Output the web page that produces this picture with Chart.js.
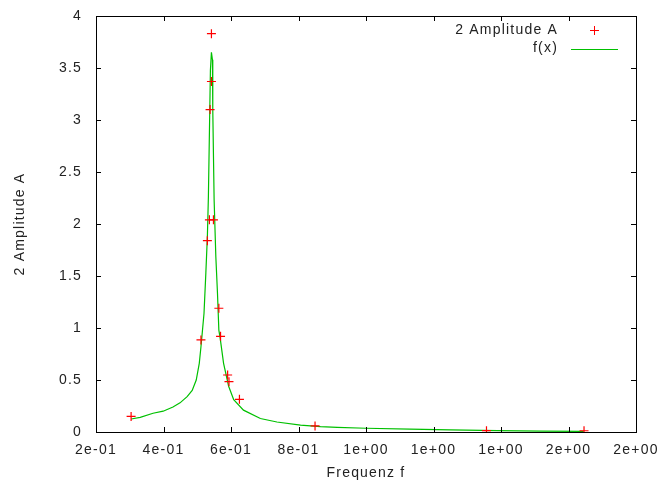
<!DOCTYPE html>
<html>
<head>
<meta charset="utf-8">
<script src="https://cdn.jsdelivr.net/npm/chart.js@4"></script>
<style>
  html, body { margin: 0; padding: 0; background: #fff; }
  #wrap { width: 661px; height: 494px; }
</style>
</head>
<body>
<div id="wrap"><canvas id="plot"></canvas></div>
<script>
// measured points (2 Amplitude A)
const ampX = [0.304, 0.511, 0.530, 0.536, 0.538, 0.542, 0.542, 0.548, 0.564, 0.569, 0.590, 0.594, 0.625, 0.849, 1.357, 1.646];
const ampY = [0.15, 0.885, 1.84, 2.04, 3.10, 3.37, 3.83, 2.04, 1.19, 0.92, 0.548, 0.484, 0.314, 0.058, 0.013, 0.012];

// fitted curve f(x)
const fitX = [0.304, 0.331, 0.369, 0.399, 0.428, 0.449, 0.470, 0.485, 0.497, 0.506, 0.511, 0.515, 0.520, 0.5255, 0.530, 0.533, 0.536, 0.539, 0.542, 0.545, 0.546, 0.550, 0.555, 0.560, 0.564, 0.568, 0.578, 0.593, 0.608, 0.637, 0.687, 0.736, 0.806, 0.865, 0.915, 1.0, 1.13, 1.25, 1.39, 1.52, 1.645];
const fitY = [0.125, 0.141, 0.18, 0.20, 0.24, 0.28, 0.34, 0.40, 0.50, 0.66, 0.82, 0.96, 1.14, 1.53, 1.88, 2.26, 2.87, 3.48, 3.65, 3.58, 3.10, 2.23, 1.69, 1.33, 0.98, 0.90, 0.66, 0.44, 0.31, 0.21, 0.13, 0.096, 0.067, 0.051, 0.045, 0.036, 0.028, 0.020, 0.014, 0.009, 0.006];

const xTickValues = [0.2, 0.4, 0.6, 0.8, 1.0, 1.2, 1.4, 1.6, 1.8];
const xTickLabels = ['2e-01', '4e-01', '6e-01', '8e-01', '1e+00', '1e+00', '1e+00', '2e+00', '2e+00'];
const yTickValues = [0, 0.5, 1, 1.5, 2, 2.5, 3, 3.5, 4];
const yTickLabels = ['0', '0.5', '1', '1.5', '2', '2.5', '3', '3.5', '4'];

const seriesNames = ['2 Amplitude A', 'f(x)'];

Chart.defaults.font.family = '"Liberation Sans", Arial, sans-serif';
Chart.defaults.font.size = 14;
Chart.defaults.color = '#222';

const points = ampX.map((x, i) => ({x: x, y: ampY[i]}));
const curve = fitX.map((x, i) => ({x: x, y: fitY[i]}));

// gnuplot look: frame, inward ticks on all sides, key in the corner
const gnuplotFrame = {
    id: 'gnuplotFrame',
    beforeDraw(chart) {
        chart.ctx.letterSpacing = '1.2px';
    },
    afterDraw(chart) {
        const {ctx, chartArea: a, scales} = chart;
        const t = 5;
        ctx.save();
        ctx.strokeStyle = '#000';
        ctx.lineWidth = 1;
        ctx.beginPath();
        xTickValues.forEach(v => {
            const px = Math.round(scales.x.getPixelForValue(v)) + 0.5;
            ctx.moveTo(px, a.bottom); ctx.lineTo(px, a.bottom - t);
            ctx.moveTo(px, a.top); ctx.lineTo(px, a.top + t);
        });
        yTickValues.forEach(v => {
            const py = Math.round(scales.y.getPixelForValue(v)) + 0.5;
            ctx.moveTo(a.left, py); ctx.lineTo(a.left + t, py);
            ctx.moveTo(a.right, py); ctx.lineTo(a.right - t, py);
        });
        ctx.stroke();
        ctx.strokeRect(Math.round(a.left) + 0.5, Math.round(a.top) + 0.5,
            Math.round(a.right - a.left), Math.round(a.bottom - a.top));

        // key
        ctx.letterSpacing = '1.2px';
        ctx.font = '14px "Liberation Sans", Arial, sans-serif';
        ctx.fillStyle = '#222';
        ctx.textAlign = 'right';
        ctx.textBaseline = 'middle';
        ctx.fillText(seriesNames[0], 558, 30);
        ctx.fillText(seriesNames[1], 558, 48);
        ctx.strokeStyle = '#ff0000';
        ctx.beginPath();
        ctx.moveTo(590, 30.5); ctx.lineTo(599, 30.5);
        ctx.moveTo(594.5, 26); ctx.lineTo(594.5, 35);
        ctx.stroke();
        ctx.strokeStyle = '#00c000';
        ctx.beginPath();
        ctx.moveTo(571, 49.5); ctx.lineTo(618, 49.5);
        ctx.stroke();
        ctx.restore();
    }
};

new Chart(document.getElementById('plot'), {
    type: 'scatter',
    data: {
        datasets: [
            {
                label: seriesNames[1],
                data: curve,
                showLine: true,
                pointRadius: 0,
                borderColor: '#00c000',
                borderWidth: 1.2,
                tension: 0,
                order: 2
            },
            {
                label: seriesNames[0],
                data: points,
                showLine: false,
                pointStyle: 'cross',
                pointRadius: 4.5,
                borderColor: '#ff0000',
                backgroundColor: '#ff0000',
                borderWidth: 1.2,
                order: 1
            }
        ]
    },
    options: {
        responsive: true,
        maintainAspectRatio: false,
        animation: false,
        layout: {padding: {top: 16, right: 25, left: 0, bottom: 0}},
        plugins: {
            legend: {display: false},
            tooltip: {enabled: false}
        },
        scales: {
            x: {
                type: 'linear',
                min: 0.2,
                max: 1.8,
                afterBuildTicks: axis => { axis.ticks = xTickValues.map(v => ({value: v})); },
                afterFit: axis => {
                    axis.height = 62;
                    axis.paddingLeft = 0;
                    axis.paddingRight = 0;
                },
                grid: {display: false, drawTicks: false},
                border: {display: false},
                ticks: {
                    padding: 10,
                    maxRotation: 0,
                    autoSkip: false,
                    callback: (v, i) => xTickLabels[i]
                },
                title: {display: true, text: 'Frequenz f', padding: {top: 0, bottom: 12}}
            },
            y: {
                min: 0,
                max: 4,
                afterBuildTicks: axis => { axis.ticks = yTickValues.map(v => ({value: v})); },
                afterFit: axis => {
                    axis.width = 96;
                    axis.paddingTop = 0;
                    axis.paddingBottom = 0;
                },
                grid: {display: false, drawTicks: false},
                border: {display: false},
                ticks: {
                    padding: 14,
                    autoSkip: false,
                    callback: (v, i) => yTickLabels[i]
                },
                title: {display: true, text: '2 Amplitude A', padding: {top: 12, bottom: 0}}
            }
        }
    },
    plugins: [gnuplotFrame]
});
</script>
</body>
</html>
